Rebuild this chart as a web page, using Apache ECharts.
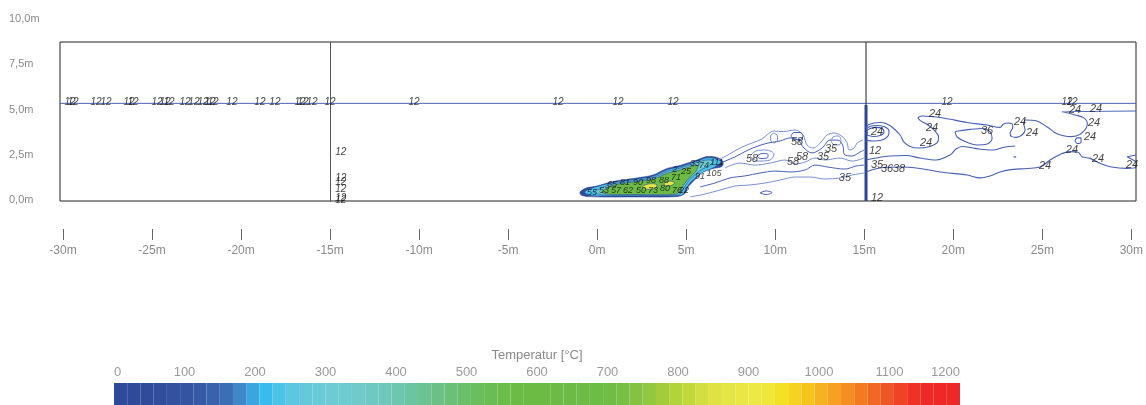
<!DOCTYPE html>
<html>
<head>
<meta charset="utf-8">
<script src="https://cdn.jsdelivr.net/npm/echarts@6/dist/echarts.min.js"></script>
<style>
html,body{margin:0;padding:0;background:#fff}
#chart{width:1146px;height:405px}
</style>
</head>
<body>
<div id="chart"></div>
<script>
// Axis ticks (metres) and colour scale ticks (°C)
const xTicks = [-30, -25, -20, -15, -10, -5, 0, 5, 10, 15, 20, 25, 30];
const yTicks = [0, 2.5, 5, 7.5, 10];
const scaleTicks = [0, 100, 200, 300, 400, 500, 600, 700, 800, 900, 1000, 1100, 1200];

// Temperature palette, 64 steps from 0 to 1200 °C
const scaleColors = [
  '#2e4a9b','#2e4a9b','#2f4c9c','#304e9d','#32519f','#3454a1','#3659a5','#3862ab',
  '#3b6fb5','#3e87c9','#3aa5de','#36bdee','#4cc4e8','#5cc8e0','#64c9db','#69cad8',
  '#6ccbd4','#6ecbd0','#6fcaca','#6fc9c3','#6ec7ba','#6dc6ae','#6cc4a1','#6bc393',
  '#6bc185','#6ac078','#6abf6b','#6abe5e','#6abd52','#6bbc49','#6bbc46','#6bbb45',
  '#6bbb45','#6bbb45','#6bbb45','#6cbb45','#6cbc45','#6fbd45','#77bf44','#84c242',
  '#92c740','#a2cc3c','#b3d33a','#c3d83b','#d3de40','#dee244','#e6e546','#eae745',
  '#ede844','#f0e73a','#f3e126','#f5d41f','#f6c41e','#f7b31f','#f7a120','#f58e21',
  '#f47a22','#f26724','#f05525','#ee4326','#ee3326','#ed2826','#ed2826','#ed2826'
];

// Plot extent (metres)
const xRange = [-30.17, 30.17];
const yRange = [-0.055, 8.729];

// Walls and the 12 °C ceiling layer
const ceilingLine = [[-30.17, 5.34], [30.17, 5.34]];
const wallLeft = [[-15, -0.12], [-15, 8.729]];
const wallRight = [[15.03, -0.055], [15.03, 8.729]];
const wallRightLower = [[15.03, -0.055], [15.03, 5.25]];

// Isotherms right of the wall
const iso24Upper = [[15.03,3.98],[15.14,4.14],[15.48,4.25],[15.82,4.28],[16.21,4.20],[16.55,3.98],[16.94,3.59],[17.16,3.20],[17.50,2.96],[17.95,2.87],[18.62,2.96],[19.01,3.15],[19.10,3.48],[18.90,3.81],[18.51,4.14],[18.12,4.36],[17.95,4.53],[18.17,4.64],[19.35,4.53],[20.70,4.28],[21.82,4.14],[22.55,4.01],[22.72,4.18],[23.00,4.25],[23.22,4.22],[23.26,4.02],[23.11,3.69],[23.20,3.50],[23.45,3.46],[23.77,3.59],[23.95,3.87],[23.89,4.14],[23.95,4.42],[24.61,4.36],[25.17,4.05],[25.63,3.72],[26.10,3.55],[26.57,3.50],[27.04,3.63],[27.37,3.96],[27.44,4.24],[27.22,4.55],[26.75,4.70],[26.19,4.85],[26.01,4.88],[30.17,4.92]];
const isoWallLoopA = [[15.03,3.31],[15.42,3.26],[15.93,3.31],[16.27,3.54],[16.32,3.81],[16.10,4.03],[15.71,4.12],[15.31,4.09],[15.03,3.92]];
const isoWallLoopB = [[15.09,3.59],[15.42,3.51],[15.82,3.56],[16.04,3.76],[15.93,3.95],[15.59,4.01],[15.26,3.95],[15.09,3.81],[15.09,3.59]];
const iso36Loop = [[20.02,3.76],[20.14,3.48],[20.59,3.23],[21.26,3.04],[21.82,3.09],[22.10,3.40],[21.99,3.76],[21.59,3.95],[20.87,3.90],[20.19,3.81],[20.02,3.76]];
const isoMid = [[15.03,2.21],[15.59,2.32],[16.38,2.43],[17.28,2.46],[18.06,2.32],[18.96,2.21],[19.74,2.49],[20.08,2.82],[20.42,2.96],[21.15,2.85],[22.10,2.76],[22.83,2.93],[23.39,2.98]];
const iso24Lower = [[15.03,1.55],[15.82,1.77],[16.94,1.82],[18.06,1.74],[19.18,1.55],[20.70,1.38],[21.42,1.22],[21.99,1.33],[22.55,1.55],[23.28,1.69],[24.06,1.74],[24.79,1.82],[25.35,2.21],[25.91,2.52],[26.47,2.67],[26.92,2.64],[27.15,2.39],[27.60,2.30],[28.15,2.03],[28.72,1.84],[29.67,1.75],[30.17,1.78]];
const isoEdge = [[30.17,2.49],[29.67,2.39],[30.01,2.21],[30.17,2.10]];
const isoSmallRing = [[26.75,3.26],[26.87,3.43],[27.09,3.43],[27.09,3.20],[26.87,3.12],[26.75,3.26]];
const isoDash = [[23.30,2.38],[23.45,2.38]];

// Isotherms of the wake between plume and wall
const wakeTop = [[6.73,2.21],[7.29,2.49],[7.96,2.87],[8.64,3.15],[9.20,3.37],[9.54,3.65],[9.87,3.81],[10.38,3.78],[11.05,3.87],[11.50,3.59],[11.72,3.04],[12.06,2.87],[12.56,3.26],[12.84,3.59],[13.24,3.70],[13.69,3.51],[13.97,3.15],[14.08,2.76],[14.36,2.87],[14.53,3.15],[14.86,3.31]];
const wakeUpper = [[6.84,2.04],[7.68,2.38],[8.41,2.76],[8.97,2.98],[9.54,3.15],[10.21,3.26],[10.77,3.43],[11.22,3.31],[11.55,2.87],[12.00,2.60],[12.56,2.87],[13.01,3.31],[13.46,3.31],[13.74,2.98],[13.80,2.54],[14.25,2.43],[14.69,2.65],[14.92,2.76]];
const wakeRingA = [[9.87,3.70],[10.07,3.54],[10.07,3.31],[9.87,3.15],[9.68,3.31],[9.68,3.54],[9.87,3.70]];
const wakeRingB = [[10.82,3.54],[10.99,3.73],[11.33,3.73],[11.50,3.54],[11.33,3.34],[10.99,3.34],[10.82,3.54]];
const wakeRingC = [[13.07,3.26],[13.18,3.48],[13.46,3.54],[13.63,3.31],[13.52,3.04],[13.24,3.04],[13.07,3.26]];
const wakeRingD = [[8.52,2.43],[8.86,2.71],[9.42,2.76],[9.87,2.54],[9.65,2.21],[8.97,2.15],[8.52,2.43]];
const wakeRingE = [[8.92,2.43],[9.20,2.57],[9.54,2.51],[9.48,2.32],[9.09,2.29],[8.92,2.43]];
const wakeCore = [[7.12,1.77],[7.96,2.04],[8.81,1.93],[9.65,2.04],[10.49,2.21],[11.05,1.99],[11.61,2.10],[12.17,2.32],[12.73,2.21],[13.57,2.32],[14.25,2.15],[14.92,2.32]];
const wakeLower = [[5.72,0.72],[6.56,0.94],[7.40,1.22],[8.24,1.33],[9.09,1.49],[9.93,1.60],[10.77,1.55],[11.61,1.66],[12.17,1.93],[12.90,1.82],[13.85,1.71],[14.47,1.88],[14.92,1.93]];
const wakeBottom = [[5.16,0.17],[6.00,0.33],[6.84,0.55],[7.68,0.77],[8.52,0.83],[9.37,0.94],[10.21,1.10],[11.05,1.27],[11.89,1.27],[12.73,1.16],[13.57,1.22],[14.25,1.38],[14.92,1.49]];
const wakeRingF = [[9.09,0.39],[9.42,0.50],[9.76,0.41],[9.42,0.30],[9.09,0.39]];

// Hot plume, temperature bands from outside in
const plumeOuter = [[-1.01,0.44],[-0.67,0.66],[-0.06,0.77],[0.84,1.02],[2.19,1.22],[3.08,1.38],[3.87,1.74],[4.60,1.91],[5.55,2.21],[6.11,2.40],[6.67,2.35],[7.01,2.13],[6.95,1.85],[6.45,1.74],[5.89,1.57],[5.61,1.30],[5.33,1.02],[5.05,0.72],[4.88,0.36],[4.43,0.19],[2.19,0.17],[0.28,0.17],[-0.56,0.19],[-0.95,0.28]];
const plumeBand2 = [[-0.75,0.45],[-0.2,0.7],[0.8,0.96],[2.2,1.16],[3.1,1.32],[3.9,1.68],[4.65,1.85],[5.55,2.15],[6.1,2.33],[6.6,2.29],[6.9,2.1],[6.5,1.8],[5.85,1.52],[5.5,1.25],[5.2,0.98],[4.95,0.65],[4.75,0.3],[4.4,0.23],[2.2,0.22],[0.3,0.22],[-0.5,0.26]];
const plumeBand3 = [[-0.2,0.45],[0.8,0.88],[2.2,1.08],[3.1,1.24],[3.9,1.58],[4.6,1.76],[5.4,2.02],[6.0,2.2],[6.45,2.18],[6.3,1.95],[5.7,1.62],[5.3,1.28],[5.0,0.95],[4.75,0.55],[4.5,0.28],[2.2,0.27],[0.3,0.28]];
const plumeBand4 = [[0.2,0.45],[1.0,0.85],[2.2,1.02],[3.1,1.16],[3.9,1.48],[4.6,1.66],[5.2,1.85],[5.6,1.9],[5.5,1.6],[5.15,1.25],[4.85,0.9],[4.6,0.5],[4.35,0.32],[2.2,0.3],[0.6,0.32]];
const plumeHotA = [[2.5,0.75],[2.9,0.9],[3.3,0.85],[3.2,0.65],[2.7,0.6]];
const plumeHotB = [[3.7,0.9],[4.0,1.05],[4.3,0.95],[4.1,0.8],[3.8,0.78]];
const plumeTemps = [30, 230, 330, 600, 880, 880];

// Contour level labels
const ceilingLabelX = [-29.61,-29.44,-28.15,-27.59,-26.30,-26.07,-24.73,-24.28,-24.06,-23.16,-22.66,-22.15,-21.76,-21.59,-20.53,-18.96,-18.12,-16.71,-16.55,-16.04,-15.03,-10.32,-2.24,1.12,4.21,19.57,26.30,26.58];
const ceilingLabelY = 5.42;
const wallLabels = [[-14.42,2.63,'12'],[-14.42,1.20,'12'],[-14.42,1.01,'12'],[-14.42,0.59,'12'],[-14.42,0.09,'12'],[-14.42,0.0,'12']];
const rightLabels = [
  [15.54,2.71,'12'],[15.65,0.09,'12'],[15.65,1.93,'35'],[16.21,1.71,'36'],[16.88,1.71,'38'],
  [15.65,3.77,'24'],[18.90,4.75,'24'],[18.73,3.96,'24'],[18.40,3.17,'24'],[21.82,3.83,'36'],
  [23.67,4.33,'24'],[24.34,3.69,'24'],[26.75,4.97,'24'],[27.93,5.01,'24'],[27.82,4.24,'24'],
  [27.59,3.46,'24'],[26.58,2.76,'24'],[28.04,2.25,'24'],[30.29,2.54,'24'],[29.95,1.93,'24'],
  [25.07,1.88,'24'],[13.85,1.20,'35']
];
const wakeLabels = [[8.64,2.25,'58'],[11.16,3.22,'58'],[11.44,2.36,'58'],[10.94,2.12,'58'],[13.07,2.80,'35'],[12.62,2.36,'35']];
const plumeLabels = [
  [-0.34,0.44,'55'],[0.34,0.55,'53'],[1.01,0.50,'57'],[1.68,0.55,'62'],[2.41,0.50,'50'],[3.08,0.55,'73'],
  [3.76,0.61,'80'],[4.43,0.55,'76'],[4.82,0.50,'22'],[0.79,0.83,'65'],[1.51,0.94,'81'],[2.24,0.99,'90'],
  [2.97,1.05,'98'],[3.70,1.05,'88'],[4.37,1.27,'71'],[4.32,1.66,'2'],[4.94,1.55,'25'],[5.72,1.29,'91'],
  [6.51,1.48,'105'],[5.94,1.88,'74'],[6.66,2.06,'111'],[5.44,1.99,'33']
];

const FONT = '"Liberation Sans", Arial, sans-serif';
const tempColor = t => scaleColors[Math.min(scaleColors.length - 1, Math.floor(t / 1200 * scaleColors.length))];

function contour(data, color, width, smooth) {
  return {
    type: 'line', xAxisIndex: 0, yAxisIndex: 0, data: data,
    symbol: 'none', smooth: smooth === undefined ? 0.35 : smooth,
    lineStyle: { color: color, width: width || 1 }, silent: true, z: 3
  };
}

function labels(data, size) {
  return {
    type: 'scatter', xAxisIndex: 0, yAxisIndex: 0, data: data, symbolSize: 1,
    itemStyle: { color: 'rgba(0,0,0,0)' }, silent: true, z: 6,
    label: {
      show: true, position: 'inside', formatter: p => p.data[2],
      color: '#111', fontSize: size, fontStyle: 'italic', fontFamily: FONT
    }
  };
}

const plumeBands = [plumeOuter, plumeBand2, plumeBand3, plumeBand4, plumeHotA, plumeHotB];
const BLUE = '#4660b2', LIGHT = '#7890cf', DARK = '#2c4593';

const option = {
  animation: false,
  backgroundColor: '#fff',
  textStyle: { fontFamily: FONT },
  grid: [
    { left: 60, top: 42, width: 1076, height: 159, show: true, borderColor: '#222', borderWidth: 1, backgroundColor: 'transparent' },
    { left: 60, top: 19, width: 1, height: 181 },
    { left: 63, top: 200, width: 1070, height: 29 },
    { left: 114, top: 383, width: 846, height: 22 }
  ],
  xAxis: [
    { gridIndex: 0, type: 'value', min: xRange[0], max: xRange[1], show: false },
    { gridIndex: 1, type: 'value', min: 0, max: 1, show: false },
    { gridIndex: 2, type: 'value', min: -30, max: 30, interval: 5,
      axisLine: { show: false }, splitLine: { show: false },
      axisTick: { show: true, length: 11, customValues: xTicks, lineStyle: { color: '#666' } },
      axisLabel: { customValues: xTicks, formatter: v => v + 'm', color: '#8a8a8a', fontSize: 12, margin: 16, fontFamily: FONT } },
    { gridIndex: 3, type: 'category', position: 'bottom', data: scaleColors.map((c, i) => i), show: false },
    { gridIndex: 3, type: 'value', position: 'top', min: 0, max: 1200, interval: 100,
      axisLine: { show: false }, axisTick: { show: false }, splitLine: { show: false },
      axisLabel: { customValues: scaleTicks, formatter: v => String(v), color: '#9a9a9a', fontSize: 13, margin: 4, alignMinLabel: 'left', alignMaxLabel: 'right', fontFamily: FONT } }
  ],
  yAxis: [
    { gridIndex: 0, type: 'value', min: yRange[0], max: yRange[1], show: false },
    { gridIndex: 1, type: 'value', min: 0, max: 10, interval: 2.5,
      axisLine: { show: false }, axisTick: { show: false }, splitLine: { show: false },
      axisLabel: { customValues: yTicks, formatter: v => v.toFixed(1).replace('.', ',') + 'm', color: '#8a8a8a', fontSize: 11, align: 'left', margin: 51, fontFamily: FONT } },
    { gridIndex: 2, type: 'value', show: false },
    { gridIndex: 3, type: 'value', min: 0, max: 1, show: false }
  ],
  graphic: [
    { type: 'text', x: 537, y: 355, style: { text: 'Temperatur [°C]', fill: '#8a8a8a', font: '13px ' + FONT, textAlign: 'center', textVerticalAlign: 'middle' } }
  ],
  series: [
    {
      type: 'custom', xAxisIndex: 0, yAxisIndex: 0, silent: true, z: 2,
      data: plumeBands.map(b => [b[0][0], b[0][1]]),
      renderItem: (params, api) => {
        const band = plumeBands[params.dataIndex];
        return {
          type: 'polygon',
          shape: { points: band.map(p => api.coord(p)), smooth: 0.3 },
          style: { fill: tempColor(plumeTemps[params.dataIndex]), stroke: DARK, lineWidth: 0.6 }
        };
      }
    },
    contour(ceilingLine, '#4d63b0', 1, 0),
    contour(wallLeft, '#555', 1, 0),
    contour(wallRight, '#222', 1, 0),
    contour(wallRightLower, DARK, 3, 0),
    contour(iso24Upper, BLUE, 1.1),
    contour(isoWallLoopA, BLUE, 1.1),
    contour(isoWallLoopB, BLUE, 1.1),
    contour(iso36Loop, BLUE, 1.1),
    contour(isoMid, BLUE, 1.1),
    contour(iso24Lower, BLUE, 1.1),
    contour(isoEdge, BLUE, 1.1, 0),
    contour(isoSmallRing, BLUE, 1.1),
    contour(isoDash, BLUE, 1.1, 0),
    contour(wakeTop, LIGHT),
    contour(wakeUpper, BLUE),
    contour(wakeRingA, LIGHT),
    contour(wakeRingB, BLUE),
    contour(wakeRingC, LIGHT),
    contour(wakeRingD, LIGHT),
    contour(wakeRingE, BLUE),
    contour(wakeCore, LIGHT),
    contour(wakeLower, BLUE),
    contour(wakeBottom, LIGHT),
    contour(wakeRingF, BLUE),
    labels(ceilingLabelX.map(x => [x, ceilingLabelY, '12']), 10),
    labels(wallLabels, 10),
    labels(rightLabels, 11),
    labels(wakeLabels, 11),
    labels(plumeLabels, 9),
    {
      type: 'bar', xAxisIndex: 3, yAxisIndex: 3, barCategoryGap: '0%', silent: true,
      data: scaleColors.map(c => ({ value: 1, itemStyle: { color: c } }))
    }
  ]
};

const chart = echarts.init(document.getElementById('chart'), null, { renderer: 'canvas' });
chart.setOption(option);
</script>
</body>
</html>
